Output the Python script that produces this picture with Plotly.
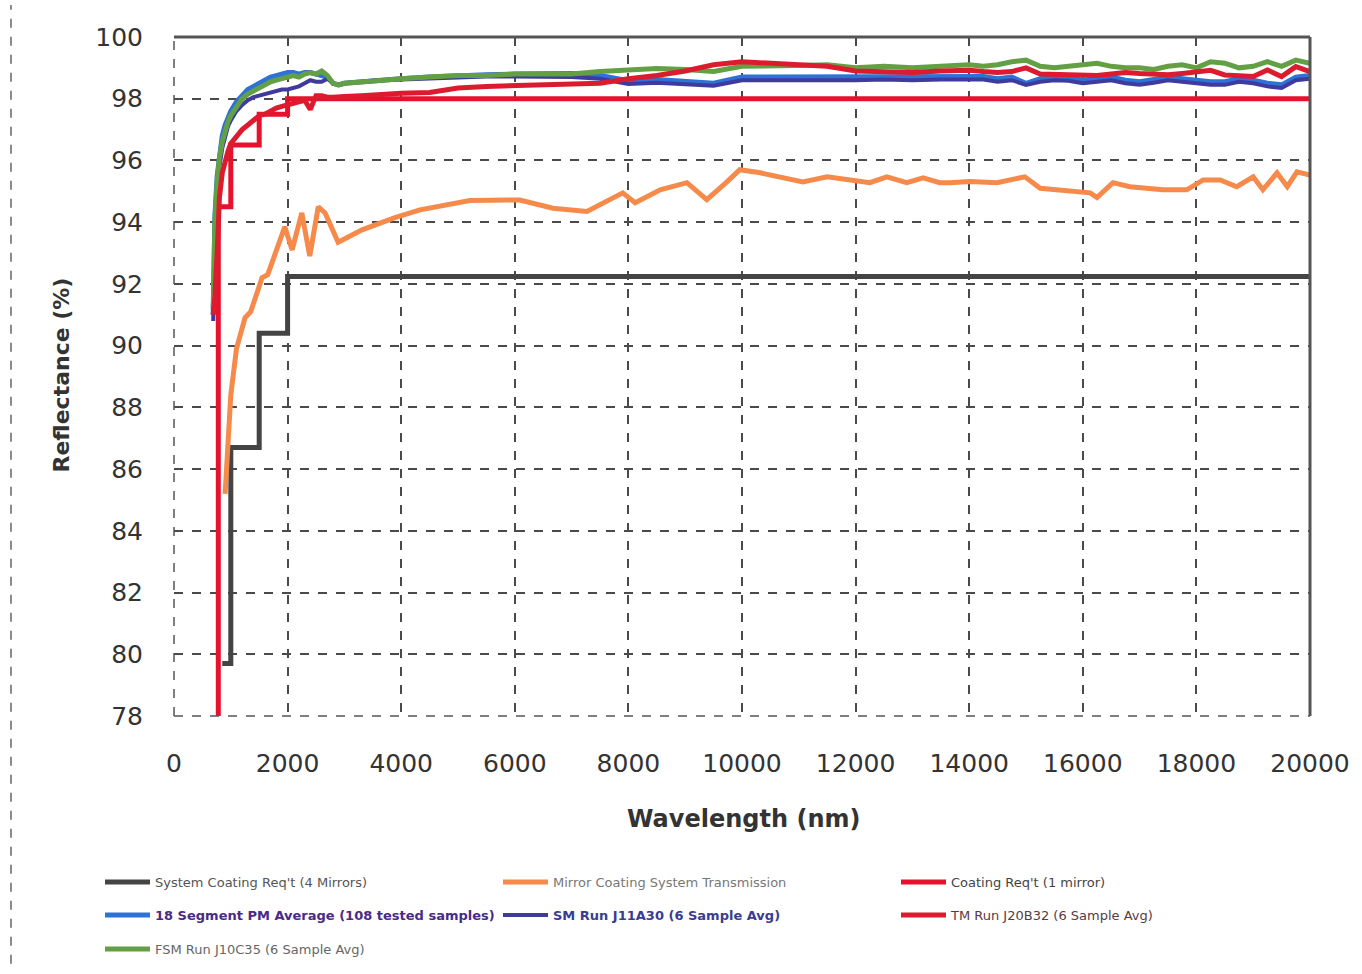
import plotly.graph_objects as go

# ---------------- data ----------------
sys_req_wl = [850, 1000, 1500, 2000, 20000]
sys_req_val = [79.7, 86.7, 90.4, 92.24, 92.24]

coat_req_wl = [780, 780, 1000, 1500, 2000, 20000]
coat_req_val = [78.0, 94.5, 96.5, 97.5, 98.0, 98.0]

trans_wl = [900, 950, 1000, 1100, 1250, 1350, 1550, 1650, 1830, 1950, 2080, 2250, 2390, 2540,
            2660, 2890, 3310, 3890, 4330, 5210, 6090, 6670, 7270, 7550, 7900, 8120, 8560, 9030,
            9380, 9730, 9960, 10320, 10700, 11070, 11500, 11950, 12250, 12550, 12900, 13190,
            13480, 13660, 14010, 14490, 14980, 15250, 15650, 16130, 16250, 16530, 16830, 17410,
            17830, 18120, 18420, 18710, 19000, 19170, 19420, 19600, 19770, 20000]
trans_val = [85.2, 87.0, 88.4, 89.9, 90.9, 91.1, 92.2, 92.3, 93.2, 93.85, 93.1, 94.3, 92.9, 94.5,
             94.3, 93.35, 93.75, 94.15, 94.4, 94.7, 94.72, 94.45, 94.35, 94.63, 94.95, 94.63, 95.05, 95.28,
             94.73, 95.3, 95.7, 95.6, 95.45, 95.3, 95.47, 95.37, 95.28, 95.47, 95.28, 95.44,
             95.28, 95.28, 95.32, 95.28, 95.47, 95.1, 95.05, 94.95, 94.8, 95.28, 95.15, 95.05,
             95.05, 95.37, 95.37, 95.15, 95.47, 95.05, 95.6, 95.15, 95.63, 95.53]

meas_wl = [690, 720, 760, 800, 850, 900, 950, 1000,
           1100, 1200, 1300, 1400, 1500, 1600, 1700, 1800, 1900, 2000,
           2100, 2200, 2300, 2400, 2500, 2600, 2700, 2800, 2900, 3000,
           3300, 3600, 4000,
           4500, 5000, 5500, 6000, 6500, 7000, 7500, 8000, 8500, 9000, 9500, 10000,
           10500, 11000, 11500, 12000, 12500, 13000, 13500, 14000,
           14250, 14500, 14750, 15000, 15250, 15500, 15750, 16000, 16250, 16500, 16750, 17000,
           17250, 17500, 17750, 18000, 18250, 18500, 18750, 19000, 19250, 19500, 19750, 20000]

pm_avg = [91.0, 94.2, 95.5, 96.2, 96.8, 97.15, 97.4, 97.6,
          97.9, 98.1, 98.3, 98.4, 98.5, 98.6, 98.7, 98.75, 98.8, 98.85,
          98.85, 98.8, 98.85, 98.85, 98.8, 98.75, 98.7, 98.5, 98.45, 98.5,
          98.55, 98.6, 98.65,
          98.7, 98.75, 98.78, 98.8, 98.82, 98.82, 98.75, 98.58, 98.62, 98.55, 98.5, 98.7,
          98.7, 98.68, 98.7, 98.7, 98.72, 98.7, 98.72, 98.7,
          98.72, 98.65, 98.7, 98.5, 98.65, 98.7, 98.68, 98.6, 98.65, 98.7, 98.6, 98.55,
          98.62, 98.7, 98.65, 98.6, 98.55, 98.55, 98.65, 98.6, 98.5, 98.45, 98.7, 98.75]

sm_run = [90.8, 93.5, 95.0, 95.8, 96.4, 96.8, 97.1, 97.3,
          97.6, 97.8, 97.95, 98.05, 98.1, 98.15, 98.2, 98.25, 98.3, 98.3,
          98.35, 98.4, 98.5, 98.6, 98.55, 98.55, 98.65, 98.5, 98.45, 98.5,
          98.55, 98.6, 98.62,
          98.65, 98.7, 98.72, 98.72, 98.72, 98.7, 98.65, 98.48, 98.52, 98.48, 98.42, 98.6,
          98.6, 98.58, 98.6, 98.6, 98.62, 98.6, 98.62, 98.6,
          98.62, 98.55, 98.6, 98.45, 98.55, 98.6, 98.58, 98.5, 98.55, 98.6, 98.5, 98.45,
          98.52, 98.6, 98.55, 98.5, 98.45, 98.45, 98.55, 98.5, 98.4, 98.35, 98.6, 98.65]

tm_run = [91.0, 91.6, 93.0, 94.8, 95.6, 96.0, 96.3, 96.55,
          96.8, 97.0, 97.15, 97.3, 97.45, 97.5, 97.6, 97.7, 97.75, 97.8,
          97.85, 97.9, 97.95, 97.65, 98.1, 98.1, 98.05, 98.05, 98.07, 98.07,
          98.1, 98.15, 98.18,
          98.2, 98.35, 98.4, 98.42, 98.42, 98.45, 98.5, 98.65, 98.75, 98.9, 99.1, 99.2,
          99.15, 99.1, 99.05, 98.9, 98.88, 98.85, 98.9, 98.92,
          98.88, 98.85, 98.88, 99.0, 98.8, 98.78, 98.8, 98.78, 98.75, 98.8, 98.85, 98.82,
          98.8, 98.78, 98.82, 98.88, 98.92, 98.77, 98.75, 98.72, 98.93, 98.72, 99.04, 98.88]

fsm_run = [91.2, 94.0, 95.3, 96.1, 96.6, 97.0, 97.25, 97.45,
           97.75, 98.0, 98.15, 98.25, 98.35, 98.45, 98.55, 98.6, 98.65, 98.7,
           98.75, 98.7, 98.8, 98.85, 98.8, 98.9, 98.75, 98.5, 98.45, 98.5,
           98.55, 98.6, 98.65,
           98.7, 98.75, 98.75, 98.8, 98.8, 98.8, 98.88, 98.93, 98.98, 98.95, 98.88, 99.05,
           99.05, 99.08, 99.1, 99.0, 99.05, 99.0, 99.05, 99.1,
           99.05, 99.1, 99.2, 99.25, 99.05, 99.0, 99.05, 99.1, 99.15, 99.05, 99.0, 99.0,
           98.95, 99.05, 99.1, 99.0, 99.2, 99.15, 99.0, 99.05, 99.2, 99.05, 99.25, 99.15]

x_ticks = [0, 2000, 4000, 6000, 8000, 10000, 12000, 14000, 16000, 18000, 20000]
y_ticks = [78, 80, 82, 84, 86, 88, 90, 92, 94, 96, 98, 100]

# ---------------- figure ----------------
W, H = 1362, 974
ML, MR, MT, MB = 174, 52, 37, 257
PW, PH = W - ML - MR, H - MT - MB


def px_x(p):
    return (p - ML) / PW


def px_y(p):
    return (H - MB - p) / PH


fig = go.Figure()

def lab(text, color):
    return f'<span style="color:{color}">{text}</span>'

fig.add_trace(go.Scatter(x=sys_req_wl, y=sys_req_val, mode="lines", line_shape="hv",
                         line=dict(color="#444444", width=5),
                         name=lab("System Coating Req't (4 Mirrors)", "#555"), legend="legend"))
fig.add_trace(go.Scatter(x=trans_wl, y=trans_val, mode="lines",
                         line=dict(color="#F58A4B", width=5),
                         name=lab("Mirror Coating System Transmission", "#777"), legend="legend"))
fig.add_trace(go.Scatter(x=coat_req_wl, y=coat_req_val, mode="lines", line_shape="hv",
                         line=dict(color="#E8112D", width=5),
                         name=lab("Coating Req't (1 mirror)", "#444"), legend="legend"))
fig.add_trace(go.Scatter(x=meas_wl, y=pm_avg, mode="lines",
                         line=dict(color="#2F72D6", width=5),
                         name=lab("<b>18 Segment PM Average (108 tested samples)</b>", "#4A2A86"), legend="legend2"))
fig.add_trace(go.Scatter(x=meas_wl, y=sm_run, mode="lines",
                         line=dict(color="#3F3A9E", width=4),
                         name=lab("<b>SM Run J11A30 (6 Sample Avg)</b>", "#3A3C92"), legend="legend2"))
fig.add_trace(go.Scatter(x=meas_wl, y=fsm_run, mode="lines",
                         line=dict(color="#63A044", width=5),
                         name=lab("FSM Run J10C35 (6 Sample Avg)", "#666"), legend="legend3"))
fig.add_trace(go.Scatter(x=meas_wl, y=tm_run, mode="lines",
                         line=dict(color="#DC1C2E", width=5),
                         name=lab("TM Run J20B32 (6 Sample Avg)", "#5a3a44"), legend="legend2"))

FONT = "DejaVu Sans"
grid = dict(showgrid=True, gridcolor="#4a4a4a", gridwidth=1.5, griddash="dash",
            zeroline=False, showline=False, ticks="")

fig.update_xaxes(range=[0, 20000], tickvals=x_ticks, ticktext=[str(v) for v in x_ticks],
                 tickfont=dict(family=FONT, size=25, color="#333"), ticklabelstandoff=30, **grid)
fig.update_yaxes(range=[78, 100], tickvals=y_ticks, ticktext=[str(v) for v in y_ticks],
                 tickfont=dict(family=FONT, size=25, color="#333"), ticklabelstandoff=30, **grid)

leg_common = dict(orientation="h", xanchor="left", yanchor="middle",
                  font=dict(family=FONT, size=13, color="#444"),
                  bgcolor="rgba(0,0,0,0)", entrywidth=338, entrywidthmode="pixels",
                  itemwidth=45, traceorder="normal")

fig.update_layout(
    width=W, height=H,
    margin=dict(l=ML, r=MR, t=MT, b=MB),
    paper_bgcolor="white", plot_bgcolor="white",
    showlegend=True,
    legend=dict(x=px_x(100), y=px_y(882), **leg_common),
    legend2=dict(x=px_x(100), y=px_y(915), **leg_common),
    legend3=dict(x=px_x(100), y=px_y(949), **leg_common),
    annotations=[
        dict(text="<b>Reflectance (%)</b>", xref="paper", yref="paper",
             x=px_x(62), y=px_y(376), textangle=-90, showarrow=False,
             font=dict(family=FONT, size=22, color="#333"), xanchor="center", yanchor="middle"),
        dict(text="<b>Wavelength (nm)</b>", xref="paper", yref="paper",
             x=px_x(743), y=px_y(820), showarrow=False,
             font=dict(family=FONT, size=24, color="#333"), xanchor="center", yanchor="middle"),
    ],
    shapes=[
        dict(type="line", xref="paper", yref="paper", x0=0, x1=1, y0=1, y1=1,
             line=dict(color="#555", width=3)),
        dict(type="line", xref="paper", yref="paper", x0=1, x1=1, y0=0, y1=1,
             line=dict(color="#555", width=3)),
        dict(type="line", xref="paper", yref="paper", x0=0, x1=0, y0=0, y1=1,
             line=dict(color="#555", width=1.5, dash="dash")),
        dict(type="line", xref="paper", yref="paper", x0=0, x1=1, y0=0, y1=0,
             line=dict(color="#555", width=1.5, dash="dash")),
        dict(type="line", xref="paper", yref="paper", x0=px_x(11), x1=px_x(11),
             y0=px_y(965), y1=px_y(5), line=dict(color="#666", width=1.5, dash="dash")),
    ],
)

fig.write_html("out.html")
